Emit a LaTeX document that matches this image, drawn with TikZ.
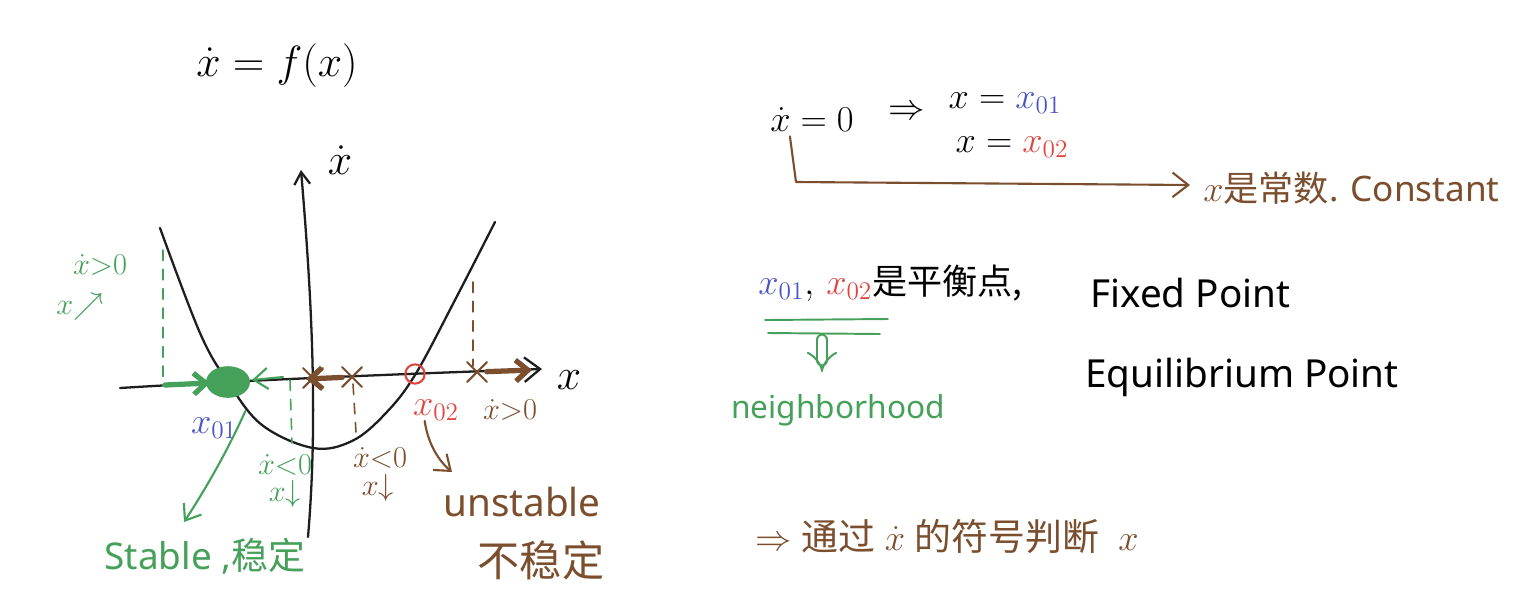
\documentclass[tikz,border=0pt]{standalone}
\usepackage{fontspec}
\setmainfont{Noto Sans}
\newfontfamily\cjk{Noto Sans CJK SC}
\usetikzlibrary{arrows.meta,shapes.misc,shapes.geometric}
\definecolor{ink}{HTML}{1E1E1E}
\definecolor{grn}{HTML}{45A05A}
\definecolor{blu}{HTML}{4B55C8}
\definecolor{rd}{HTML}{E0463F}
\definecolor{brn}{HTML}{7B4E2E}
\newcommand{\fs}[1]{\fontsize{#1}{#1}\selectfont}
\begin{document}
\begin{tikzpicture}[x=0.02cm,y=-0.02cm,line cap=round,line join=round,
  lbl/.style={inner sep=0pt,anchor=center},
  curvestyle/.style={ink,line width=1.3pt},
  axisstyle/.style={ink,line width=1.3pt},
  dashg/.style={grn,dashed,line width=0.9pt,dash pattern=on 6pt off 5pt},
  dashb/.style={brn,dashed,line width=0.9pt,dash pattern=on 6pt off 5pt},
  fatarrow/.style={line width=3pt,-{Straight Barb[length=7pt,width=12pt]}},
  thinarrow/.style={line width=1.2pt,-{Straight Barb[length=8pt,width=12pt]}},
  xmark/.style={cross out,draw=brn,line width=1.2pt,minimum size=10pt,inner sep=0pt}]
\useasboundingbox (0,0) rectangle (1514,613);
\fill[white] (0,0) rectangle (1514,613);

% title
\node[lbl] (title) at (277,66) {\fs{27}$\dot{x}\mathrel{=}f(x)$};

% axes
\coordinate (ybot) at (308,537);
\coordinate (ytop) at (301,170);
\draw[axisstyle,-{Straight Barb[length=7pt,width=9pt]}] (ybot) .. controls (318,420) and (312,300) .. (ytop);
\node[lbl] (ylab) at (340,160) {\fs{26}$\dot{x}$};
\coordinate (xleft) at (120,388);
\coordinate (xright) at (542,369);
\draw[axisstyle,-{Straight Barb[length=9pt,width=14pt]}] (xleft) .. controls (250,380) and (400,374) .. (xright);
\node[lbl] (xlab) at (569,380) {\fs{28}$x$};

% parabola
\draw[curvestyle] plot[smooth,tension=0.6] coordinates {(160,228) (200,333) (228,382) (262,425) (313,448) (352,441) (385,414) (415,375) (455,300) (495,222)};

% green part (stable)
\draw[dashg] (163,250) -- (163,386);
\draw[dashg] (290,380) -- (292,443);
\draw[grn,fatarrow] (165,385) -- (210,383);
\draw[grn,thinarrow] (283,377) -- (252,380);
\node[ellipse,fill=grn,minimum width=25pt,minimum height=18pt,inner sep=0pt] (x01dot) at (228,382) {};
\node[lbl,text=grn] (gpos) at (100,265) {\fs{18}$\dot{x}{>}0$};
\node[lbl,text=grn] (gup) at (80,307) {\fs{18}$x{\nearrow}$};
\node[lbl,text=grn] (gneg) at (285,465) {\fs{16}$\dot{x}{<}0$};
\node[lbl,text=grn] (gdown) at (285,494) {\fs{16}$x{\downarrow}$};
\node[lbl,text=blu] (x01lab) at (214,428) {\fs{20}$x_{01}$};
\node[lbl,text=grn] (stable) at (205,556) {\fs{21}Stable ,{\cjk 稳定}};
\coordinate (stabletip) at (184,522);
\draw[grn,thinarrow] (x01lab.north east) ++(8,-6) .. controls (228,450) and (205,490) .. (stabletip);

% brown part (unstable)
\draw[dashb] (353,384) -- (356,432);
\draw[dashb] (473,282) -- (473,366);
\node[xmark] (bx1) at (313,378) {};
\node[xmark] (bx2) at (352,377) {};
\node[xmark] (bx3) at (477,372) {};
\draw[brn,fatarrow] (bx2) -- (306,379);
\draw[brn,fatarrow] (bx3) -- (532,370);
\node[circle,draw=rd,line width=1.2pt,minimum size=11pt,inner sep=0pt] (x02dot) at (415,374) {};
\node[lbl,text=rd] (x02lab) at (436,410) {\fs{20}$x_{02}$};
\node[lbl,text=brn] (bpos) at (510,410) {\fs{18}$\dot{x}{>}0$};
\node[lbl,text=brn] (bneg) at (380,458) {\fs{18}$\dot{x}{<}0$};
\node[lbl,text=brn] (bdown) at (378,488) {\fs{17}$x{\downarrow}$};
\coordinate (unstip) at (452,472);
\draw[brn,thinarrow] (x02lab.south west) ++(12,0) .. controls (428,445) and (440,462) .. (unstip);
\node[lbl,text=brn] (unstable) at (522,502) {\fs{22}unstable};
\node[lbl,text=brn] (unstablecn) at (541,560) {\fs{24}\cjk 不稳定};

% right side
\node[lbl] (xdot0) at (812,120) {\fs{22}$\dot{x}=0$};
\node[lbl] (impl) at (907,113) {\fs{22}$\Rightarrow$};
\node[lbl] (sol1) at (1005,103) {\fs{20}$x=\textcolor{blu}{x_{01}}$};
\node[lbl] (sol2) at (1012,147) {\fs{20}$x=\textcolor{rd}{x_{02}}$};
\coordinate (cbend) at (796,182);
\coordinate (ctip) at (1190,185);
\draw[brn,line width=1.2pt,-{Straight Barb[length=9pt,width=14pt]}] (xdot0.south west) ++(20,4) -- (cbend) -- (ctip);
\node[lbl,text=brn,anchor=west] (constant) at (1203,188) {\fs{20}$x${\cjk 是常数}. Constant};

\node[lbl,anchor=west] (fixedcn) at (758,283) {\fs{20}$\textcolor{blu}{x_{01}},\,\textcolor{rd}{x_{02}}${\cjk 是平衡点,}};
\coordinate (u1a) at (765,320);
\coordinate (u1b) at (888,319);
\coordinate (u2a) at (768,333);
\coordinate (u2b) at (880,334);
\draw[grn,line width=1.1pt] (u1a) -- (u1b);
\draw[grn,line width=1.1pt] (u2a) -- (u2b);
\coordinate (ddtop) at (822,340);
\coordinate (ddbot) at (822,372);
\draw[grn,line width=1.1pt,double distance=5pt,-{Implies}] (ddtop) -- (ddbot);
\node[lbl,text=grn] (neigh) at (838,410) {\fs{18}neighborhood};

\node[lbl,anchor=west] (fixed) at (1090,293) {\fs{22}Fixed Point};
\node[lbl,anchor=west] (equil) at (1085,377) {\fs{22}Equilibrium Point};

\node[lbl,text=brn,anchor=west] (judge) at (755,537) {\fs{21}$\Rightarrow$\ {\cjk 通过}\ $\dot{x}$\ {\cjk 的符号判断}\ \ $x$};
\end{tikzpicture}
\end{document}
